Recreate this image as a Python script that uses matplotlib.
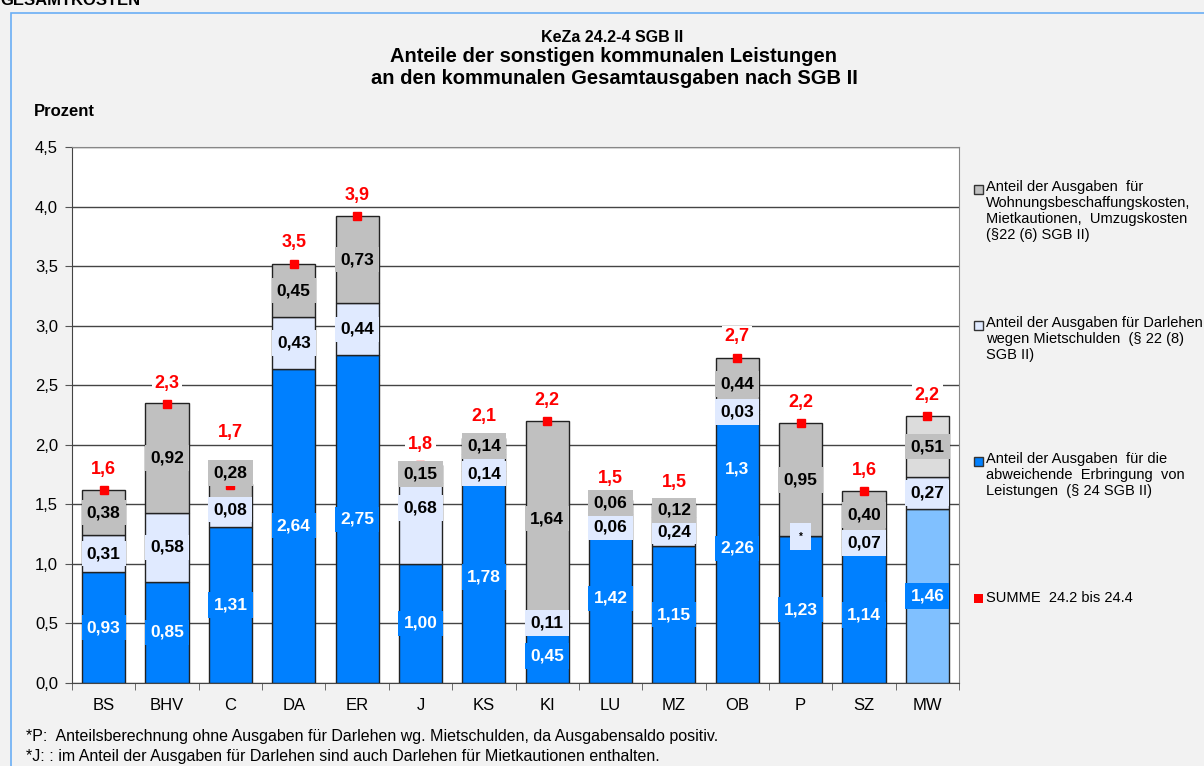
import matplotlib.pyplot as plt
from matplotlib.patches import Rectangle
from matplotlib.ticker import MultipleLocator, FuncFormatter

plt.rcParams['font.family'] = ['Liberation Sans', 'DejaVu Sans']

# Daten (Prozent)
staedte = ['BS', 'BHV', 'C', 'DA', 'ER', 'J', 'KS', 'KI', 'LU', 'MZ', 'OB', 'P', 'SZ', 'MW']
abweichend = [0.93, 0.85, 1.31, 2.64, 2.75, 1.00, 1.78, 0.45, 1.42, 1.15, 2.26, 1.23, 1.14, 1.46]
darlehen = [0.31, 0.58, 0.08, 0.43, 0.44, 0.68, 0.14, 0.11, 0.06, 0.24, 0.03, 0.00, 0.07, 0.27]
wohnung = [0.38, 0.92, 0.28, 0.45, 0.73, 0.15, 0.14, 1.64, 0.06, 0.12, 0.44, 0.95, 0.40, 0.51]
summe = [1.62, 2.34, 1.66, 3.52, 3.92, 1.83, 2.06, 2.20, 1.54, 1.51, 2.73, 2.18, 1.61, 2.24]

# Sonderbeschriftungen
darlehen_text = {'P': '*'}
zusatz_labels = [('OB', 1.80, '1,3')]

blau, hellblau, grau = '#0080FF', '#E0EAFF', '#C0C0C0'
mw_farben = ['#80C0FF', '#E0EAFF', '#DCDCDC']


def komma(v, nd=2):
    return f'{v:.{nd}f}'.replace('.', ',')


fig = plt.figure(figsize=(12.04, 7.66), dpi=100, facecolor='#F2F2F2')
ax = fig.add_axes([72 / 1204, 1 - 683 / 766, (959 - 72) / 1204, (683 - 147) / 766])
ax.set_facecolor('white')

# Rahmen um das Diagramm
fig.patches.append(Rectangle((10.5 / 1204, -0.01), 1.0, 1 - 12.5 / 766 + 0.01,
                             transform=fig.transFigure, fill=False,
                             edgecolor='#6AAEF5', linewidth=1.2, zorder=0))

x = range(len(staedte))
breite = 0.68
for i, s in enumerate(staedte):
    farben = mw_farben if s == 'MW' else [blau, hellblau, grau]
    unten = 0
    for wert, farbe in zip([abweichend[i], darlehen[i], wohnung[i]], farben):
        ax.bar(i, wert, breite, bottom=unten, color=farbe, edgecolor='#222222',
               linewidth=1, zorder=2)
        unten += wert

# Summenpunkte mit Beschriftung
summe_versatz = {'C': 38}
ax.plot(list(x), summe, 's', color='#FF0000', markersize=6, zorder=3)
for i, v in enumerate(summe):
    ax.annotate(komma(v, 1), (i, v), xytext=(0, summe_versatz.get(staedte[i], 15)),
                textcoords='offset points', ha='center', va='center', fontsize=13,
                fontweight='bold', color='#FF0000', zorder=5,
                bbox=dict(boxstyle='square,pad=0.15', fc='white', ec='none'))

# Verschiebung einzelner Beschriftungen (Punkte)
versatz = {('C', 1): 9, ('C', 2): 20, ('J', 1): 11, ('KS', 1): -8, ('LU', 1): -12}

for i, s in enumerate(staedte):
    unten = 0
    for k, (wert, box) in enumerate(zip([abweichend[i], darlehen[i], wohnung[i]],
                                        [blau, hellblau, grau])):
        text = komma(wert)
        if k == 1 and s in darlehen_text:
            text = darlehen_text[s]
        stern = text == '*'
        ax.annotate(text, (i, unten + wert / 2), xytext=(0, versatz.get((s, k), 0)),
                    textcoords='offset points', ha='center', va='center',
                    fontsize=7 if stern else 12.5, fontweight='bold',
                    color='white' if k == 0 else 'black', zorder=4,
                    bbox=dict(boxstyle='square,pad=%s' % (0.9 if stern else 0.3),
                              fc=box, ec='none'))
        unten += wert

for s, y, text in zusatz_labels:
    ax.text(staedte.index(s), y, text, ha='center', va='center', fontsize=12.5,
            fontweight='bold', color='white', zorder=4)

# Achsen
ax.set_xlim(-0.5, len(staedte) - 0.5)
ax.set_ylim(0, 4.5)
ax.yaxis.set_major_locator(MultipleLocator(0.5))
ax.yaxis.set_major_formatter(FuncFormatter(lambda v, p: komma(v, 1)))
ax.grid(axis='y', color='#444444', linewidth=1, zorder=1)
ax.set_axisbelow(True)
ax.set_xticks(list(x))
ax.set_xticklabels(staedte, fontsize=12)
ax.set_xticks([i - 0.5 for i in range(len(staedte) + 1)], minor=True)
ax.tick_params(axis='x', which='major', length=0, pad=11)
ax.tick_params(axis='x', which='minor', length=5, color='#555555')
ax.tick_params(axis='y', length=5, color='#555555', labelsize=12, pad=5)
for side in ['left', 'bottom']:
    ax.spines[side].set_color('#444444')
for side in ['top', 'right']:
    ax.spines[side].set_color('#888888')

# Titel und Texte
fig.text(0.0, 1 - 5 / 766, 'GESAMTKOSTEN', fontsize=12, fontweight='bold',
         ha='left', va='baseline')
fig.text(612 / 1204, 1 - 38 / 766, 'KeZa 24.2-4 SGB II', fontsize=11.5,
         fontweight='bold', ha='center', va='center')
fig.text(614 / 1204, 1 - 57 / 766, 'Anteile der sonstigen kommunalen Leistungen',
         fontsize=14.5, fontweight='bold', ha='center', va='center')
fig.text(614 / 1204, 1 - 78 / 766, 'an den kommunalen Gesamtausgaben nach SGB II',
         fontsize=14.5, fontweight='bold', ha='center', va='center')
fig.text(34 / 1204, 1 - 112 / 766, 'Prozent', fontsize=12, fontweight='bold',
         ha='left', va='center')
fig.text(26 / 1204, 1 - 737 / 766,
         '*P:  Anteilsberechnung ohne Ausgaben für Darlehen wg. Mietschulden, da Ausgabensaldo positiv.',
         fontsize=11.5, ha='left', va='center')
fig.text(26 / 1204, 1 - 757 / 766,
         '*J: : im Anteil der Ausgaben für Darlehen sind auch Darlehen für Mietkautionen enthalten.',
         fontsize=11.5, ha='left', va='center')

# Legende
legende = [
    (grau, 189, 'Anteil der Ausgaben  für\nWohnungsbeschaffungskosten,\nMietkautionen,  Umzugskosten\n(§22 (6) SGB II)'),
    (hellblau, 325, 'Anteil der Ausgaben für Darlehen\nwegen Mietschulden  (§ 22 (8)\nSGB II)'),
    (blau, 461, 'Anteil der Ausgaben  für die\nabweichende  Erbringung  von\nLeistungen  (§ 24 SGB II)'),
]
for farbe, ypx, text in legende:
    fig.patches.append(Rectangle((974 / 1204, 1 - (ypx + 5) / 766), 9 / 1204, 9 / 766,
                                 transform=fig.transFigure, facecolor=farbe,
                                 edgecolor='#333333', linewidth=1))
    fig.text(986 / 1204, 1 - (ypx - 9) / 766, text, fontsize=10.5, ha='left', va='top',
             linespacing=1.18)
fig.patches.append(Rectangle((974 / 1204, 1 - 603 / 766), 9 / 1204, 9 / 766,
                             transform=fig.transFigure, facecolor='#FF0000',
                             edgecolor='none'))
fig.text(986 / 1204, 1 - 598 / 766, 'SUMME  24.2 bis 24.4', fontsize=10.5,
         ha='left', va='center')

fig.savefig('out.png', dpi=100, facecolor=fig.get_facecolor())
